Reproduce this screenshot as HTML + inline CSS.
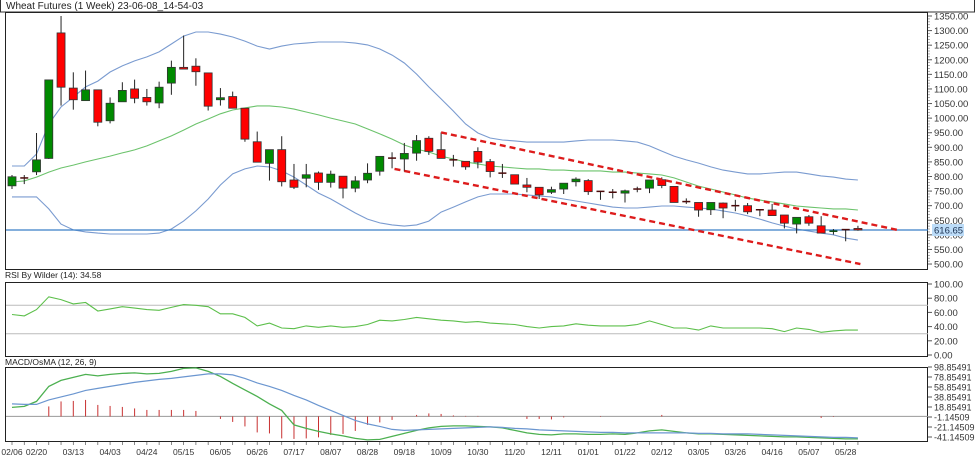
<!DOCTYPE html>
<html><head><meta charset="utf-8"><style>
html,body{margin:0;padding:0;background:#fff;}
svg{display:block;font-family:"Liberation Sans",sans-serif;}
</style></head><body>
<svg id="chart" width="975" height="474" viewBox="0 0 975 474">
<rect x="0" y="0" width="975" height="474" fill="#fff"/>
<rect x="0.5" y="-1" width="974" height="13" fill="#fff" stroke="#333"/>
<text x="6" y="9" font-size="10" fill="#222">Wheat Futures (1 Week) 23-06-08_14-54-03</text>
<rect x="5.5" y="12.5" width="922" height="257" fill="none" stroke="#222"/>
<text x="5" y="278" font-size="8.5" fill="#222">RSI By Wilder (14): 34.58</text>
<rect x="5.5" y="282.5" width="922" height="74" fill="none" stroke="#222"/>
<text x="5" y="365" font-size="8.5" fill="#222">MACD/OsMA (12, 26, 9)</text>
<rect x="5.5" y="367.5" width="922" height="74" fill="none" stroke="#222"/>
<g id="g-price"></g>
<g id="g-rsi"></g>
<g id="g-macd"></g>
<g id="g-axes"></g>
</svg>
<script>
const dates = ["02/06","02/20","03/13","04/03","04/24","05/15","06/05","06/26","07/17","08/07","08/28","09/18","10/09","10/30","11/20","12/11","01/01","01/22","02/12","03/05","03/26","04/16","05/07","05/28"];
const dateIdx = [0,2,5,8,11,14,17,20,23,26,29,32,35,38,41,44,47,50,53,56,59,62,65,68];
const opens = [768,795,816,862,1292,1103,1060,1097,991,1056,1100,1071,1052,1120,1174,1178,1155,1063,1074,1034,919,845,892,788,794,812,780,801,760,788,818,863,860,880,931,892,857,852,886,851,814,806,771,763,746,757,782,786,749,746,743,757,760,789,766,714,711,686,709,700,700,686,685,668,637,662,631,611,618,622];
const highs = [805,805,949,1131,1350,1157,1163,1097,1071,1123,1132,1100,1125,1197,1283,1205,1155,1103,1091,1034,954,892,938,843,843,817,820,801,801,845,869,883,915,942,938,951,874,852,900,860,843,806,795,763,765,777,797,791,749,757,755,765,788,797,766,725,711,711,711,720,709,686,706,668,660,668,664,620,618,631];
const lows = [757,774,805,860,1043,1029,1060,972,982,1056,1051,1043,1034,1080,1168,1111,1026,1043,1034,919,849,786,766,757,763,754,762,725,746,777,803,828,817,854,874,862,834,823,828,797,795,774,746,723,740,740,766,737,720,725,711,746,743,760,711,706,662,668,657,681,671,664,666,622,605,631,606,601,578,614];
const closes = [799,795,857,1131,1106,1063,1097,986,1051,1095,1068,1056,1106,1174,1168,1159,1041,1070,1034,928,849,892,782,763,806,780,808,760,785,811,869,863,879,923,886,862,857,833,849,817,809,774,763,737,755,777,791,748,749,746,751,757,788,769,711,714,685,711,692,700,679,686,666,640,660,640,606,614,618,616.65];
const bbUpper = [836,836,877,980,1038,1072,1107,1127,1158,1179,1196,1210,1227,1254,1281,1295,1295,1288,1278,1264,1247,1237,1247,1254,1257,1261,1261,1261,1257,1251,1237,1216,1189,1151,1107,1066,1024,980,949,932,925,922,918,918,918,918,922,925,925,925,922,918,905,887,870,857,846,833,822,815,809,809,812,815,815,809,802,798,791,788];
const bbMiddle = [781,785,798,815,829,839,850,860,870,881,891,905,922,939,959,980,997,1015,1028,1035,1042,1042,1038,1031,1021,1011,1000,990,980,963,946,928,908,894,884,870,860,850,843,836,833,829,826,826,822,822,819,819,819,815,815,812,809,805,795,781,767,757,747,737,726,719,713,706,699,695,692,689,689,685];
const bbLower = [730,730,730,689,637,617,610,606,603,603,603,603,606,620,647,682,723,771,809,826,836,833,819,798,771,743,723,699,675,654,641,634,630,634,647,678,695,713,730,740,740,740,737,733,730,723,716,709,702,695,692,692,695,699,699,695,692,689,682,675,665,654,641,630,620,613,606,600,589,582];
const channelUpper = [[35,951],[72.2,617]];
const channelLower = [[31.2,826],[69.2,500]];
const lastPrice = 616.65;
const priceTicks = [1350,1300,1250,1200,1150,1100,1050,1000,950,900,850,800,750,700,650,600,550,500];
const rsi = [57,55,64,82,78,72,74,62,65,68,66,64,63,67,71,70,68,58,58,53,41,45,38,37,41,39,41,39,40,43,49,48,50,53,51,49,48,46,47,45,44,43,40,38,40,41,44,42,41,41,41,43,48,43,38,38,35,41,38,38,38,38,37,33,38,36,32,34,35,35];
const rsiTicks = [100,80,60,40,20,0];
const rsiLevels = [70,30];
const macd = [18,20,30,60,72,78,84,81,84,86,87,85,86,90,96,97,90,80,66,53,40,25,12,-17,-24,-30,-35,-39,-44,-47,-46,-40,-34,-28,-23,-20,-19,-19,-20,-21,-23,-28,-33,-36,-37,-35,-35,-36,-36,-35,-36,-33,-29,-27,-30,-33,-35,-35,-36,-37,-38,-39,-40,-41,-41,-42,-43,-44,-45,-45];
const signal = [25,24,24,33,39,45,52,56,60,64,68,71,74,76,79,82,85,85,83,76,67,60,52,42,33,22,12,2,-8,-15,-20,-26,-28,-27,-26,-25,-24,-23,-22,-21,-22,-24,-25,-27,-28,-29,-30,-31,-32,-32,-33,-33,-33,-33,-33,-33,-34,-34,-35,-35,-35,-36,-37,-38,-39,-40,-41,-42,-42,-43];
const osma = [0,0,0,20,30,31,33,23,21,19,16,13,13,13,13,11,0,-5,-11,-20,-32,-34,-44,-45,-44,-42,-37,-35,-29,-17,-12,-7,0,3,6,5,2,1,1,0,0,0,-5,-5,-6,-2,0,0,-1,0,0,0,0,3,0,0,0,0,0,0,0,0,0,0,0,0,-3,-1,0,0];
const macdTicks = [98.85491,78.85491,58.85491,38.85491,18.85491,-1.14509,-21.14509,-41.14509];

const NS = "http://www.w3.org/2000/svg";
const X0 = 12, DX = 12.26;
const xOf = i => X0 + i * DX;
const yPrice = p => 16 + (1350 - p) * 0.2918;
const yRsi = v => 355 - v * 0.71;
const yMacd = v => 367 + (98.85491 - v) * 0.5;
function mk(tag, attrs, parent){ const e=document.createElementNS(NS,tag); for(const k in attrs) e.setAttribute(k,attrs[k]); parent.appendChild(e); return e; }
const gP = document.getElementById('g-price'), gR = document.getElementById('g-rsi'), gM = document.getElementById('g-macd'), gA = document.getElementById('g-axes');
function poly(arr, yf, color, w, parent, name){
  const pts = arr.map((v,i)=>xOf(i).toFixed(1)+','+yf(v).toFixed(1)).join(' ');
  const el = mk('polyline',{points:pts,fill:'none',stroke:color,'stroke-width':w},parent);
  
  
  return el;
}
// bands
poly(bbUpper, yPrice, '#7a9bd0', 1.1, gP, 'bollinger-upper');
poly(bbMiddle, yPrice, '#6cc36c', 1.1, gP, 'bollinger-middle');
poly(bbLower, yPrice, '#7a9bd0', 1.1, gP, 'bollinger-lower');
// last price line
const lp = mk('line',{x1:6,x2:928,y1:yPrice(lastPrice),y2:yPrice(lastPrice),stroke:'#3a7fc8','stroke-width':1.2},gP);


// candles
for(let i=0;i<opens.length;i++){
  const x=xOf(i), o=opens[i], c=closes[i], up=c>o;
  const g = mk('g',{},gP);
  
  
  mk('line',{x1:x,x2:x,y1:yPrice(highs[i]),y2:yPrice(lows[i]),stroke:'#222','stroke-width':1},g);
  const yt=yPrice(Math.max(o,c)), yb=yPrice(Math.min(o,c));
  if(yb-yt<1.5){ mk('line',{x1:x-4,x2:x+4,y1:(yt+yb)/2,y2:(yt+yb)/2,stroke:up?'#0a4a0a':'#4a0a0a','stroke-width':1.5},g); }
  else mk('rect',{x:x-4,y:yt,width:8,height:yb-yt,fill:up?'#008a00':'#ff0000',stroke:'#333','stroke-width':0.8},g);
}
// channel
[[channelUpper,'channel-upper'],[channelLower,'channel-lower']].forEach(([c,n])=>{
  const l = mk('line',{x1:xOf(c[0][0]),y1:yPrice(c[0][1]),x2:xOf(c[1][0]),y2:yPrice(c[1][1]),stroke:'#dd1c1c','stroke-width':2.4,'stroke-dasharray':'6 4'},gP);
  
  
});
// price axis
priceTicks.forEach(t=>{
  const y=yPrice(t);
  mk('line',{x1:928,x2:932,y1:y,y2:y,stroke:'#555'},gA);
  const tx = mk('text',{x:934,y:y+3.5,'font-size':9.5,fill:'#333'},gA);
  tx.textContent = t.toFixed(2);
  
  
});
for(let p=500;p<=1350;p+=10){ const y=yPrice(p); mk('line',{x1:928,x2:930,y1:y,y2:y,stroke:'#777','stroke-width':0.6},gA); }
mk('rect',{x:932,y:yPrice(lastPrice)-6,width:32,height:12,fill:'#bcdcf8'},gA);
const lpl = mk('text',{x:934,y:yPrice(lastPrice)+3.5,'font-size':9.5,fill:'#1a3050'},gA);
lpl.textContent = lastPrice.toFixed(2);


// RSI
rsiLevels.forEach(v=>{ mk('line',{x1:6,x2:928,y1:yRsi(v),y2:yRsi(v),stroke:'#bbb','stroke-width':1},gR); });
poly(rsi, yRsi, '#5cbf4a', 1.1, gR, 'rsi-line');
rsiTicks.forEach(t=>{
  const y=yRsi(t);
  mk('line',{x1:928,x2:932,y1:y,y2:y,stroke:'#555'},gA);
  const tx = mk('text',{x:934,y:y+3.5,'font-size':9.5,fill:'#333'},gA);
  tx.textContent = t.toFixed(2);
  
  
});
// MACD
mk('line',{x1:6,x2:928,y1:yMacd(0),y2:yMacd(0),stroke:'#999','stroke-width':1},gM);
osma.forEach((v,i)=>{
  if(v===0) return;
  const b = mk('line',{x1:xOf(i),x2:xOf(i),y1:yMacd(0),y2:yMacd(v),stroke:'#c83030','stroke-width':1},gM);
  
  
});
poly(macd, yMacd, '#4cb050', 1.3, gM, 'macd-line');
poly(signal, yMacd, '#6b96d0', 1.2, gM, 'signal-line');
macdTicks.forEach(t=>{
  const y=yMacd(t);
  mk('line',{x1:928,x2:932,y1:y,y2:y,stroke:'#555'},gA);
  const tx = mk('text',{x:934,y:y+3.5,'font-size':9,fill:'#333'},gA);
  tx.textContent = t.toFixed(5);
  
  
});
// date axis
for(let i=0;i<opens.length;i++){ mk('line',{x1:xOf(i),x2:xOf(i),y1:442,y2:445,stroke:'#555','stroke-width':0.7},gA); }
dates.forEach((d,k)=>{
  const tx = mk('text',{x:xOf(dateIdx[k]),y:455,'font-size':8.5,fill:'#333','text-anchor':'middle'},gA);
  tx.textContent = d;
  
  
});
</script>
</body></html>
